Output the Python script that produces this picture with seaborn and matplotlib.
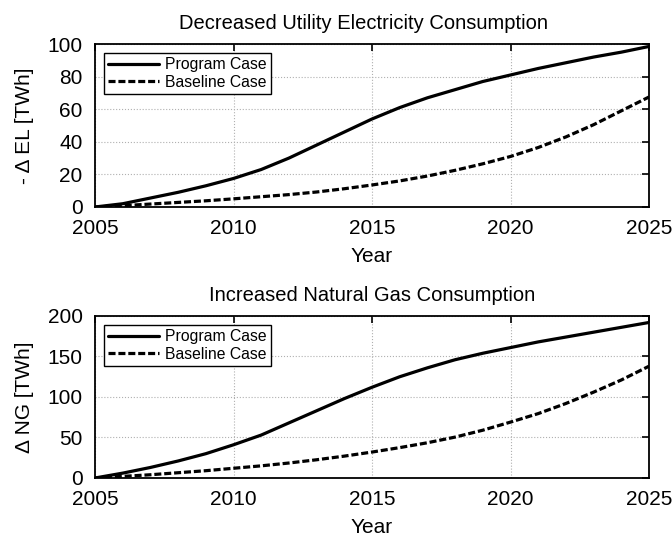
import numpy as np
import pandas as pd
import matplotlib
matplotlib.use("Agg")
import matplotlib.pyplot as plt
import seaborn as sns

years = list(range(2005, 2026))

el_program = [0, 2, 5.5, 9, 13, 17.5, 23, 30, 38, 46, 54, 61, 67, 72, 77, 81,
              85, 88.5, 92, 95, 98.5]
el_baseline = [0, 0.8, 1.8, 2.8, 3.8, 5, 6.3, 7.6, 9.2, 11.2, 13.5, 16, 19,
               22.5, 26.5, 31, 36.5, 43, 50.5, 59, 67.5]

ng_program = [0, 6, 13, 21, 30, 41, 53, 68, 83, 98, 112, 125, 136, 146, 154,
              161, 168, 174, 180, 186, 192]
ng_baseline = [0, 2, 4, 6.5, 9, 12, 15, 18.5, 22.5, 27, 32, 37.5, 43.5, 50.5,
               59, 69, 79.5, 92, 106, 121, 138]

case_names = ["Program Case", "Baseline Case"]
x_ticks = [2005, 2010, 2015, 2020, 2025]
el_ticks = [0, 20, 40, 60, 80, 100]
ng_ticks = [0, 50, 100, 150, 200]


def long_frame(program, baseline):
    return pd.DataFrame({
        "Year": years * 2,
        "Value": program + baseline,
        "Case": [case_names[0]] * len(years) + [case_names[1]] * len(years),
    })


sns.set_style("white")
plt.rcParams["font.family"] = ["Liberation Sans", "DejaVu Sans"]
plt.rcParams["text.color"] = "black"
plt.rcParams["axes.labelcolor"] = "black"
plt.rcParams["axes.titlecolor"] = "black"

fig = plt.figure(figsize=(6.72, 5.42), dpi=100)
ax1 = fig.add_axes([0.1414, 0.6181, 0.8244, 0.3007])
ax2 = fig.add_axes([0.1414, 0.1181, 0.8244, 0.2989])

panels = [
    (ax1, long_frame(el_program, el_baseline), "Decreased Utility Electricity Consumption",
     "- \u0394 EL [TWh]", el_ticks, 100, 0.484),
    (ax2, long_frame(ng_program, ng_baseline), "Increased Natural Gas Consumption",
     "\u0394 NG [TWh]", ng_ticks, 200, 0.5),
]

for ax, df, title, ylabel, yticks, ymax, title_x in panels:
    sns.lineplot(data=df, x="Year", y="Value", style="Case",
                 style_order=case_names,
                 dashes={case_names[0]: "", case_names[1]: (2.2, 0.9)},
                 color="black", linewidth=2.3, ax=ax)
    ax.set_xlim(2005, 2025)
    ax.set_ylim(0, ymax)
    ax.set_xticks(x_ticks)
    ax.set_yticks(yticks)
    ax.grid(True, color="#b0b0b0", linestyle=":", linewidth=0.8)
    ax.tick_params(direction="in", length=5, width=1.2, labelsize=15,
                   top=True, right=True, colors="black", pad=9)
    for s in ax.spines.values():
        s.set_visible(True)
        s.set_color("black")
        s.set_linewidth(1.3)
    ax.set_title(title, fontsize=14.5, pad=11, x=title_x, color="black")
    ax.set_xlabel("Year", fontsize=15, labelpad=6, color="black")
    ax.set_ylabel(ylabel, fontsize=15, labelpad=10, color="black")
    leg = ax.legend(loc="upper left", fontsize=11.3, frameon=True, fancybox=False,
                    edgecolor="black", framealpha=1, handlelength=3.2,
                    handletextpad=0.4, borderpad=0.3, labelspacing=0.15,
                    borderaxespad=0.55)
    leg.get_frame().set_linewidth(1.0)
    for t in leg.get_texts():
        t.set_color("black")
    leg.set_title(None)

fig.savefig("out.png", dpi=100)
